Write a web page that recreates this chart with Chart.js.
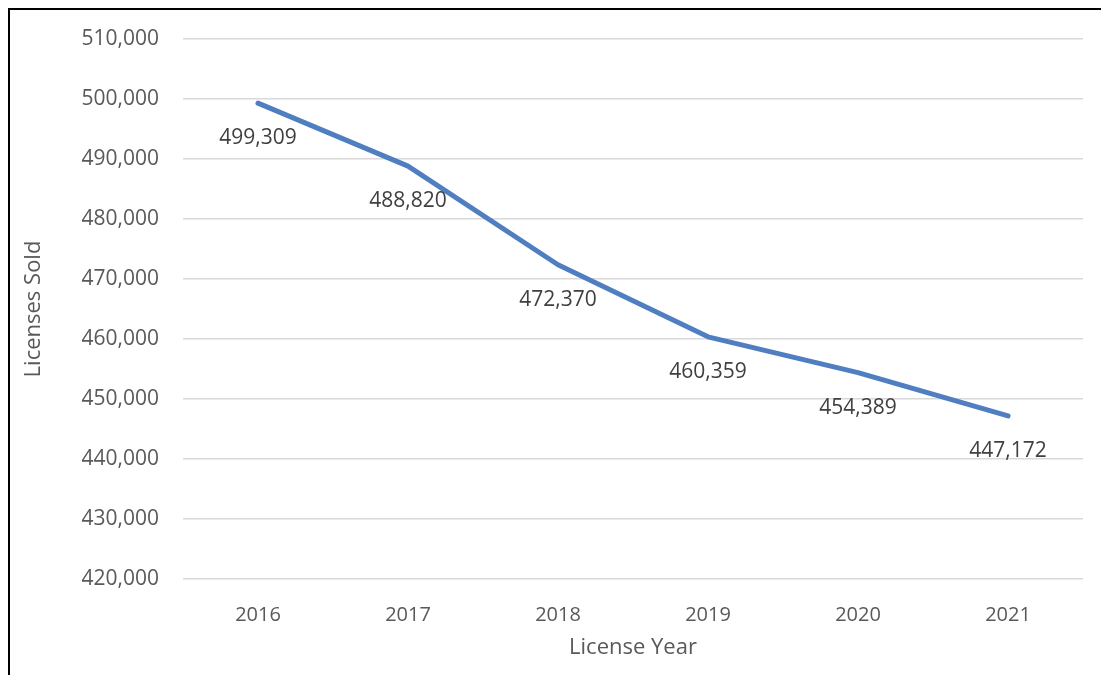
<!DOCTYPE html>
<html>
<head>
<meta charset="utf-8">
<script src="https://cdn.jsdelivr.net/npm/chart.js@4"></script>
<style>
    html, body { margin: 0; padding: 0; background: #fff; overflow: hidden; }
    #wrap { position: relative; width: 1101px; height: 675px; }
    #frame { position: absolute; left: 8px; top: 8px; width: 1200px; height: 800px; border: 2px solid #000; box-sizing: border-box; }
    canvas { position: absolute; left: 0; top: 0; }
</style>
</head>
<body>
<div id="wrap">
    <div id="frame"></div>
    <canvas id="licenseChart" width="1101" height="675"></canvas>
</div>
<script>
const years = ['2016', '2017', '2018', '2019', '2020', '2021'];
const licensesSold = [499309, 488820, 472370, 460359, 454389, 447172];
const yMin = 420000;
const yMax = 510000;
const yStep = 10000;

const fontFamily = "'Open Sans', 'Liberation Sans', sans-serif";

// writes each value under its point, the way the spreadsheet did
const valueLabels = {
    id: 'valueLabels',
    afterDatasetsDraw(chart) {
        const ctx = chart.ctx;
        const meta = chart.getDatasetMeta(0);
        ctx.save();
        ctx.font = '21px ' + fontFamily;
        ctx.fillStyle = '#404040';
        ctx.textAlign = 'center';
        ctx.textBaseline = 'middle';
        meta.data.forEach((pt, i) => {
            ctx.fillText(licensesSold[i].toLocaleString('en-US'), pt.x, pt.y + 35);
        });
        ctx.restore();
    }
};

const ctx = document.getElementById('licenseChart').getContext('2d');
new Chart(ctx, {
    type: 'line',
    data: {
        labels: years,
        datasets: [{
            label: 'Licenses Sold',
            data: licensesSold,
            borderColor: '#4F7FC0',
            borderWidth: 5,
            borderCapStyle: 'round',
            borderJoinStyle: 'round',
            pointRadius: 0,
            tension: 0,
            fill: false
        }]
    },
    options: {
        responsive: false,
        animation: false,
        layout: {
            padding: { left: 17, top: 39, right: 18, bottom: 10 }
        },
        plugins: {
            legend: { display: false },
            tooltip: { enabled: false }
        },
        scales: {
            x: {
                offset: true,
                grid: { display: false },
                border: { display: false },
                ticks: {
                    color: '#595959',
                    padding: 16,
                    font: { family: fontFamily, size: 20 }
                },
                title: {
                    display: true,
                    text: 'License Year',
                    color: '#595959',
                    padding: { top: 8 },
                    font: { family: fontFamily, size: 22 }
                },
                afterFit(scale) { scale.height = 86; }
            },
            y: {
                min: yMin,
                max: yMax,
                grid: { color: '#d9d9d9', lineWidth: 1.5, drawTicks: false },
                border: { display: false },
                ticks: {
                    stepSize: yStep,
                    color: '#595959',
                    padding: 24,
                    font: { family: fontFamily, size: 21 },
                    callback: v => v.toLocaleString('en-US')
                },
                title: {
                    display: true,
                    text: 'Licenses Sold',
                    color: '#595959',
                    font: { family: fontFamily, size: 22 }
                },
                afterFit(scale) { scale.width = 166; }
            }
        }
    },
    plugins: [valueLabels]
});
</script>
</body>
</html>
